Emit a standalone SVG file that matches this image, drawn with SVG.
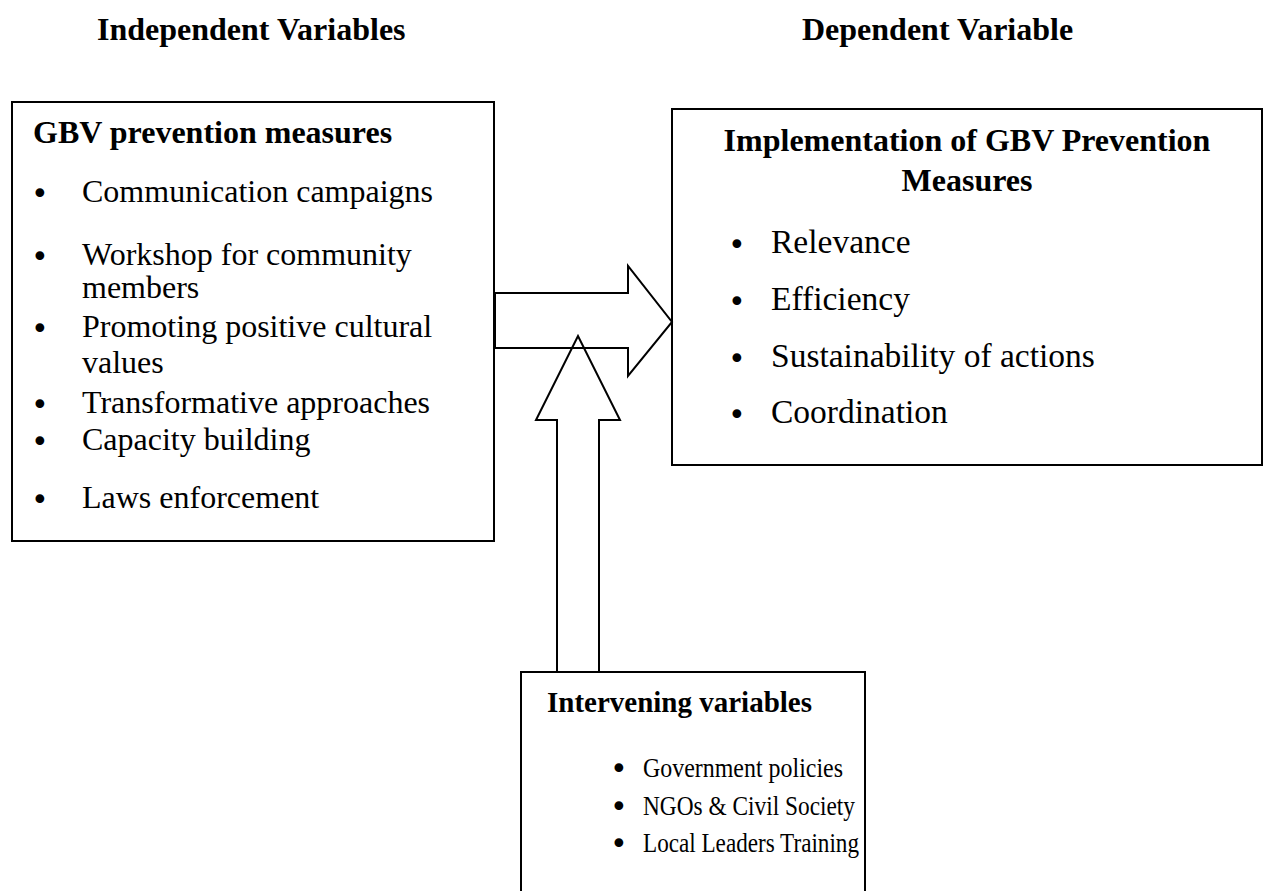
<svg xmlns="http://www.w3.org/2000/svg" width="1266" height="891" viewBox="0 0 1266 891">
<style>
.box{fill:#fff;stroke:#000;stroke-width:2}
.arr{fill:none;stroke:#000;stroke-width:2;stroke-linejoin:miter}
text{font-family:"Liberation Serif","Times New Roman",serif;fill:#000}
.h{font-size:32px;font-weight:bold}
.t{font-size:32px}
.r{font-size:33.5px}
.s{font-size:27px}
.hs{font-size:29px;font-weight:bold}
text.b{font-family:"DejaVu Sans",sans-serif;font-size:30px}
</style>
<rect width="1266" height="891" fill="#fff"/>
<g id="titles">
<text class="h" x="97" y="40">Independent Variables</text>
<text class="h" x="802" y="40">Dependent Variable</text>
</g>
<g id="node-independent">
<rect class="box" x="12" y="102" width="482" height="439"/>
<text class="h" x="33" y="143">GBV prevention measures</text>
<text class="b" x="31" y="204">•</text><text class="t" x="82" y="202">Communication campaigns</text>
<text class="b" x="31" y="267">•</text><text class="t" x="82" y="265">Workshop for community</text>
<text class="t" x="82" y="298">members</text>
<text class="b" x="31" y="339">•</text><text class="t" x="82" y="337">Promoting positive cultural</text>
<text class="t" x="82" y="373">values</text>
<text class="b" x="31" y="415">•</text><text class="t" x="82" y="413">Transformative approaches</text>
<text class="b" x="31" y="452">•</text><text class="t" x="82" y="450">Capacity building</text>
<text class="b" x="31" y="510">•</text><text class="t" x="82" y="508">Laws enforcement</text>
</g>
<g id="node-dependent">
<rect class="box" x="672" y="109" width="590" height="356"/>
<text class="h" x="967" y="151" text-anchor="middle">Implementation of GBV Prevention</text>
<text class="h" x="967" y="191" text-anchor="middle">Measures</text>
<text class="b" x="728" y="255">•</text><text class="r" x="771" y="253">Relevance</text>
<text class="b" x="728" y="312">•</text><text class="r" x="771" y="310">Efficiency</text>
<text class="b" x="728" y="369">•</text><text class="r" x="771" y="367">Sustainability of actions</text>
<text class="b" x="728" y="425">•</text><text class="r" x="771" y="423">Coordination</text>
</g>
<g id="node-intervening">
<rect class="box" x="521" y="672" width="344" height="225"/>
<text class="hs" x="547" y="712">Intervening variables</text>
<text class="b" x="610" y="779">•</text><text class="s" x="643" y="777" textLength="200" lengthAdjust="spacingAndGlyphs">Government policies</text>
<text class="b" x="610" y="817">•</text><text class="s" x="643" y="815" textLength="212" lengthAdjust="spacingAndGlyphs">NGOs &amp; Civil Society</text>
<text class="b" x="610" y="854">•</text><text class="s" x="643" y="852" textLength="216" lengthAdjust="spacingAndGlyphs">Local Leaders Training</text>
</g>
<g id="connectors">
<polygon class="arr" points="495,293 628,293 628,266 672,322 628,376 628,348 495,348"/>
<polyline class="arr" points="557,672 557,420 536,420 578,336 620,420 599,420 599,672"/>
</g>
</svg>
